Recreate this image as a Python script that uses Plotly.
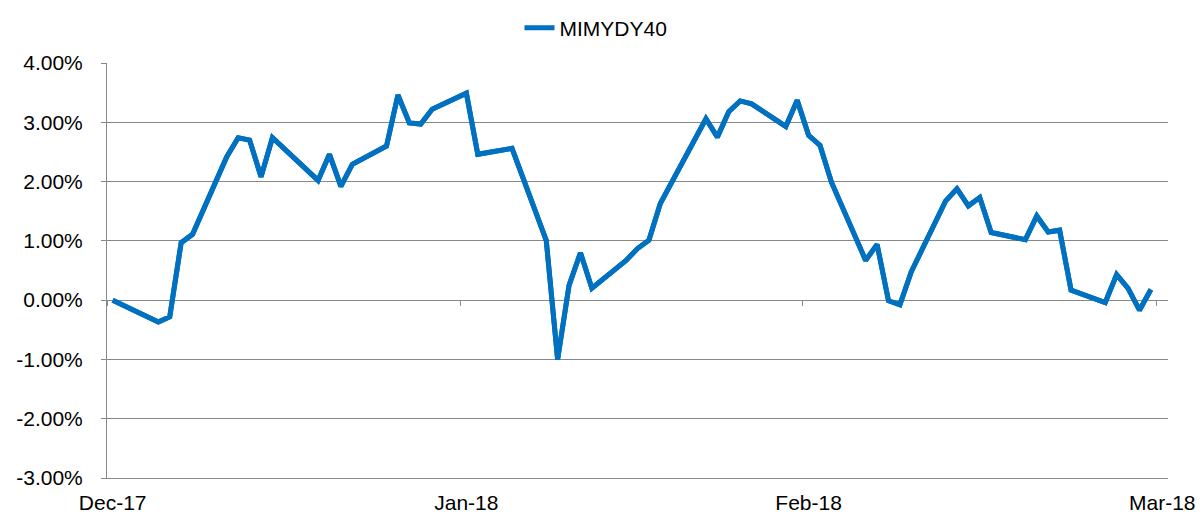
import plotly.graph_objects as go

# Trading dates and index values (%)
dates = [
    "2017-12-01", "2017-12-05", "2017-12-06", "2017-12-07", "2017-12-08",
    "2017-12-11", "2017-12-12", "2017-12-13", "2017-12-14", "2017-12-15",
    "2017-12-19", "2017-12-20", "2017-12-21", "2017-12-22",
    "2017-12-25", "2017-12-26", "2017-12-27", "2017-12-28", "2017-12-29",
    "2018-01-01", "2018-01-02", "2018-01-05",
    "2018-01-08", "2018-01-09", "2018-01-10", "2018-01-11", "2018-01-12",
    "2018-01-15", "2018-01-16", "2018-01-17", "2018-01-18",
    "2018-01-22", "2018-01-23", "2018-01-24", "2018-01-25", "2018-01-26",
    "2018-01-29", "2018-01-30", "2018-01-31", "2018-02-01", "2018-02-02",
    "2018-02-05", "2018-02-06", "2018-02-07", "2018-02-08", "2018-02-09",
    "2018-02-12", "2018-02-13", "2018-02-14", "2018-02-15", "2018-02-16",
    "2018-02-19", "2018-02-20", "2018-02-21", "2018-02-22", "2018-02-23",
    "2018-02-26", "2018-02-27", "2018-02-28", "2018-03-01", "2018-03-02",
]
mimydy40 = [
    0.00, -0.37, -0.28, 0.97, 1.11,
    2.42, 2.74, 2.70, 2.08, 2.74,
    2.02, 2.46, 1.92, 2.29,
    2.60, 3.46, 2.99, 2.97, 3.22,
    3.49, 2.46, 2.56,
    1.01, -1.00, 0.25, 0.80, 0.20,
    0.67, 0.87, 1.01, 1.63,
    3.06, 2.75, 3.18, 3.36, 3.31,
    2.93, 3.37, 2.78, 2.61, 1.99,
    0.67, 0.94, -0.01, -0.08, 0.48,
    1.67, 1.88, 1.59, 1.73, 1.14,
    1.02, 1.42, 1.15, 1.18, 0.17,
    -0.04, 0.43, 0.20, -0.17, 0.18,
]

series_name = "MIMYDY40"
x_label_dates = ["2017-12-01", "2018-01-01", "2018-01-31", "2018-03-03"]
x_labels = ["Dec-17", "Jan-18", "Feb-18", "Mar-18"]
x_tick_marks = ["2017-11-30 12:00", "2017-12-31 12:00", "2018-01-30 12:00", "2018-03-02 12:00"]
x_range = ["2017-11-30 12:00", "2018-03-03 12:00"]
y_ticks = [-3, -2, -1, 0, 1, 2, 3, 4]
y_labels = ["%.2f%%" % v for v in y_ticks]

GRID = "#888888"
FONT = dict(family="Liberation Sans, Arial, sans-serif", size=21, color="#000000")

# the page body adds an 8px offset; the figure is sized to fit the window
W, H = 1196, 507

fig = go.Figure()
fig.add_trace(go.Scatter(
    x=dates, y=mimydy40, mode="lines", name=series_name,
    line=dict(color="#0070C0", width=5),
))
# same series on the zero-line axis that carries the small tick marks
fig.add_trace(go.Scatter(
    x=dates, y=mimydy40, mode="lines", xaxis="x2", showlegend=False,
    line=dict(color="#0070C0", width=5), hoverinfo="skip",
))

fig.update_layout(
    width=W, height=H,
    margin=dict(l=99, r=36, t=55, b=37, autoexpand=False),
    paper_bgcolor="white", plot_bgcolor="white",
    font=FONT,
    showlegend=True,
    legend=dict(
        orientation="h", xref="container", yref="container",
        x=588 / W, xanchor="center", y=1 - 20 / H, yanchor="middle",
        font=FONT, bgcolor="rgba(0,0,0,0)",
    ),
    xaxis=dict(
        type="date", range=x_range, automargin=False,
        tickmode="array", tickvals=x_label_dates, ticktext=x_labels,
        ticks="", showgrid=False, zeroline=False,
        showline=True, linecolor=GRID, linewidth=1,
        ticklabelstandoff=6,
    ),
    xaxis2=dict(
        type="date", overlaying="x", range=x_range, automargin=False,
        anchor="free", position=3 / 7,
        tickmode="array", tickvals=x_tick_marks, showticklabels=False,
        ticks="outside", ticklen=5, tickcolor=GRID, tickwidth=1,
        showgrid=False, zeroline=False, showline=False,
    ),
    yaxis=dict(
        range=[-3, 4], automargin=False,
        tickmode="array", tickvals=y_ticks, ticktext=y_labels,
        showgrid=True, gridcolor=GRID, gridwidth=1,
        zeroline=False,
        showline=True, linecolor=GRID, linewidth=1,
        ticks="outside", ticklen=5, tickcolor=GRID,
        ticklabelstandoff=14,
    ),
)

fig.write_html("out.html")
